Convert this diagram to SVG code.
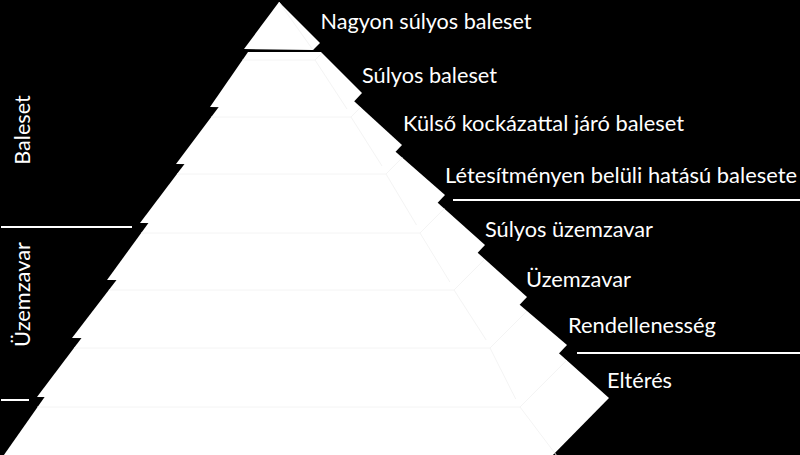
<svg xmlns="http://www.w3.org/2000/svg" width="800" height="455" viewBox="0 0 800 455">
  <style>
    .layer { fill: #ffffff; stroke: none; }
    .facet { fill: none; stroke: #f4f4f4; stroke-width: 1; }
    .lbl { font-family: Lato, "Open Sans", "Liberation Sans", sans-serif; font-size: 21px; fill: #ffffff; }
    .sep { stroke: #ffffff; stroke-width: 2; fill: none; }
  </style>
  <rect x="0" y="0" width="800" height="455" fill="#000000"/>

  <g id="pyramid">
    <g id="layer8">
      <polygon class="layer" points="76.2,352 557.5,352 609,398 546,462 -1,462"/>
      <polyline class="facet" points="37.3,407 520,407 566.8,360.2"/>
      <line class="facet" x1="520" y1="407" x2="560" y2="460"/>
    </g>
    <g id="layer7">
      <polygon class="layer" points="109.4,301 515.3,301 567,345 515.7,399 37,397"/>
      <polyline class="facet" points="74,348 490,348 527,311"/>
      <line class="facet" x1="490" y1="348" x2="515.7" y2="399"/>
    </g>
    <g id="layer6">
      <polygon class="layer" points="140.3,249 473.5,249 527,297 486.2,340 72,338"/>
      <polyline class="facet" points="108.9,290 454,290 484.8,259.2"/>
      <line class="facet" x1="454" y1="290" x2="486.2" y2="340"/>
    </g>
    <g id="layer5">
      <polygon class="layer" points="165.9,199 433.5,199 485,245 449.9,282 107,280"/>
      <polyline class="facet" points="141.2,233 420,233 444.3,208.7"/>
      <line class="facet" x1="420" y1="233" x2="449.9" y2="282"/>
    </g>
    <g id="layer4">
      <polygon class="layer" points="195.8,149 392.4,149 445,195 416.5,225 140,223"/>
      <polyline class="facet" points="177,174 386,174 402.3,157.7"/>
      <line class="facet" x1="386" y1="174" x2="416.5" y2="225"/>
    </g>
    <g id="layer3">
      <polygon class="layer" points="225.5,98 350.6,98 402,145 382,166 176,164"/>
      <polyline class="facet" points="211.3,117 351,117 360.7,107.3"/>
      <line class="facet" x1="351" y1="117" x2="382" y2="166"/>
    </g>
    <g id="layer2">
      <polygon class="layer" points="248,52 321,52 362,93 347,109 210,107"/>
      <polyline class="facet" points="242.5,60 315,60 322,53"/>
      <line class="facet" x1="315" y1="60" x2="347" y2="109"/>
    </g>
    <g id="layer1">
      <polygon class="layer" points="279,2 320,43 313,50 244,49"/>
      <line class="facet" x1="279" y1="2" x2="313" y2="50"/>
    </g>
  </g>

  <g id="labels">
    <g id="label1"><text class="lbl" x="320.5" y="29" textLength="211" lengthAdjust="spacingAndGlyphs">Nagyon súlyos baleset</text></g>
    <g id="label2"><text class="lbl" x="362" y="83" textLength="135" lengthAdjust="spacingAndGlyphs">Súlyos baleset</text></g>
    <g id="label3"><text class="lbl" x="403" y="131" textLength="281" lengthAdjust="spacingAndGlyphs">Külső kockázattal járó baleset</text></g>
    <g id="label4"><text class="lbl" x="445" y="183" textLength="352" lengthAdjust="spacingAndGlyphs">Létesítményen belüli hatású balesete</text></g>
    <g id="label5"><text class="lbl" x="485" y="237" textLength="168" lengthAdjust="spacingAndGlyphs">Súlyos üzemzavar</text></g>
    <g id="label6"><text class="lbl" x="526" y="287" textLength="105" lengthAdjust="spacingAndGlyphs">Üzemzavar</text></g>
    <g id="label7"><text class="lbl" x="568" y="333" textLength="148" lengthAdjust="spacingAndGlyphs">Rendellenesség</text></g>
    <g id="label8"><text class="lbl" x="607" y="388" textLength="65" lengthAdjust="spacingAndGlyphs">Eltérés</text></g>
  </g>

  <g id="categories">
    <g id="cat-baleset"><text class="lbl" text-anchor="middle" transform="translate(29.5,130) rotate(-90)" textLength="69.6" lengthAdjust="spacingAndGlyphs">Baleset</text></g>
    <g id="cat-uzemzavar"><text class="lbl" text-anchor="middle" transform="translate(29.5,294.5) rotate(-90)" textLength="105" lengthAdjust="spacingAndGlyphs">Üzemzavar</text></g>
  </g>

  <g id="connectors">
    <line class="sep" x1="453" y1="200" x2="800" y2="200"/>
    <line class="sep" x1="577" y1="353" x2="800" y2="353"/>
    <line class="sep" x1="1" y1="227" x2="132" y2="227"/>
    <line class="sep" x1="1" y1="400" x2="29" y2="400"/>
  </g>
</svg>
